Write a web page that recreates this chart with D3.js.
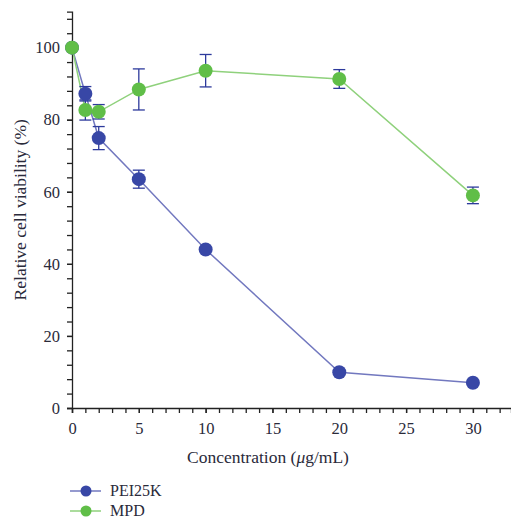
<!DOCTYPE html>
<meta charset="utf-8">
<style>
    body { margin: 0; background: #fff; }
    .tick text, .label, .legend text {
        font-family: "Liberation Serif", "DejaVu Serif", serif;
        fill: #2a2a3a;
    }
</style>
<svg width="511" height="520"></svg>
<script src="https://d3js.org/d3.v7.min.js"></script>
<script>

    var concentrations = [0, 1, 2, 5, 10, 20, 30];
    var peiValues = [100, 87.2, 74.9, 63.5, 44.0, 9.9, 7.0];
    var peiErrors = [0, 2.0, 3.2, 2.5, 0, 0, 0];
    var mpdValues = [100, 82.7, 82.2, 88.4, 93.6, 91.3, 59.0];
    var mpdErrors = [0, 2.8, 2.0, 5.7, 4.5, 2.6, 2.3];
    var xTicks = [0, 5, 10, 15, 20, 25, 30];
    var yTicks = [0, 20, 40, 60, 80, 100];
    var seriesNames = ["PEI25K", "MPD"];

    var svg = d3.select("svg");

    var x = d3.scaleLinear().domain([0, 32.85]).range([72, 511]);
    var y = d3.scaleLinear().domain([0, 110]).range([408, 11.6]);

    var series = [
        { name: seriesNames[0], values: peiValues, errors: peiErrors, dot: "#3847a6", line: "#7278bf" },
        { name: seriesNames[1], values: mpdValues, errors: mpdErrors, dot: "#60be48", line: "#8fd17c" }
    ];
    var errColor = "#2d3a9c";

    // axes
    svg.append("g")
        .attr("transform", "translate(0," + y(0) + ")")
        .call(d3.axisBottom(x).tickValues(d3.range(0, 33, 1)).tickSize(5).tickFormat(""));
    svg.append("g")
        .attr("transform", "translate(0," + y(0) + ")")
        .call(d3.axisBottom(x).tickValues(xTicks).tickSize(5).tickPadding(9))
        .call(function (g) { g.select(".domain").remove(); });

    svg.append("g")
        .attr("transform", "translate(" + x(0) + ",0)")
        .call(d3.axisLeft(y).tickValues(d3.range(0, 111, 4)).tickSize(5).tickFormat(""));
    svg.append("g")
        .attr("transform", "translate(" + x(0) + ",0)")
        .call(d3.axisLeft(y).tickValues(yTicks).tickSize(5).tickPadding(7))
        .call(function (g) { g.select(".domain").remove(); });

    svg.selectAll(".domain, .tick line").attr("stroke", "#222").attr("stroke-width", 1.3);
    svg.selectAll(".tick text").style("font-size", "16.5px");

    // lines
    var line = d3.line()
        .x(function (d, i) { return x(concentrations[i]); })
        .y(function (d) { return y(d); });

    series.forEach(function (s) {
        svg.append("path")
            .datum(s.values)
            .attr("fill", "none")
            .attr("stroke", s.line)
            .attr("stroke-width", 1.5)
            .attr("d", line);
    });

    // error bars
    series.forEach(function (s) {
        var g = svg.append("g").attr("stroke", errColor).attr("stroke-width", 1.3);
        s.values.forEach(function (v, i) {
            var e = s.errors[i];
            if (!e) return;
            var cx = x(concentrations[i]);
            g.append("line").attr("x1", cx).attr("x2", cx).attr("y1", y(v - e)).attr("y2", y(v + e));
            g.append("line").attr("x1", cx - 6).attr("x2", cx + 6).attr("y1", y(v - e)).attr("y2", y(v - e));
            g.append("line").attr("x1", cx - 6).attr("x2", cx + 6).attr("y1", y(v + e)).attr("y2", y(v + e));
        });
    });

    // dots
    series.forEach(function (s) {
        svg.append("g").selectAll("circle")
            .data(s.values)
            .enter().append("circle")
            .attr("cx", function (d, i) { return x(concentrations[i]); })
            .attr("cy", function (d) { return y(d); })
            .attr("r", 7)
            .attr("fill", s.dot);
    });

    // axis labels
    var xl = svg.append("text")
        .attr("class", "label")
        .attr("x", 268)
        .attr("y", 463)
        .attr("text-anchor", "middle")
        .style("font-size", "17.5px");
    xl.append("tspan").text("Concentration (");
    xl.append("tspan").style("font-style", "italic").text("μ");
    xl.append("tspan").text("g/mL)");

    svg.append("text")
        .attr("class", "label")
        .attr("transform", "translate(26," + (y(55)) + ") rotate(-90)")
        .attr("text-anchor", "middle")
        .style("font-size", "17.5px")
        .text("Relative cell viability (%)");

    // legend
    var legend = svg.append("g").attr("class", "legend");
    series.forEach(function (s, i) {
        var ly = 491 + i * 20;
        legend.append("line")
            .attr("x1", 70).attr("x2", 101).attr("y1", ly).attr("y2", ly)
            .attr("stroke", s.line).attr("stroke-width", 1.5);
        legend.append("circle")
            .attr("cx", 86).attr("cy", ly).attr("r", 5.5).attr("fill", s.dot);
        legend.append("text")
            .attr("x", 110).attr("y", ly + 5)
            .style("font-size", "16px")
            .text(s.name);
    });

</script>
